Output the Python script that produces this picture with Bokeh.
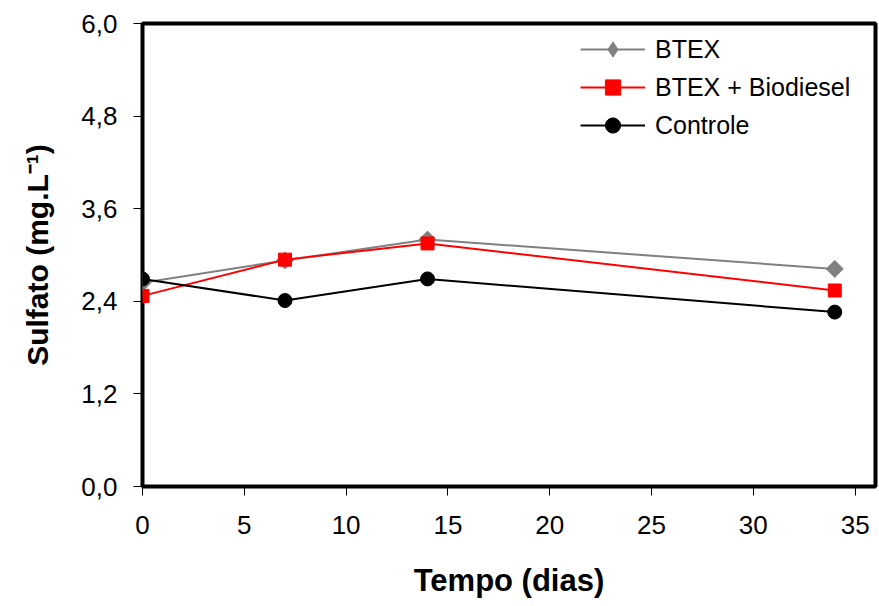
import math
from bokeh.plotting import figure
from bokeh.models import ColumnDataSource, FixedTicker, Legend, LegendItem, Range1d
from bokeh.embed import file_html
from bokeh.resources import INLINE

# ---- data ----
days = [0, 7, 14, 34]
btex = [2.64, 2.93, 3.20, 2.82]
btex_bio = [2.47, 2.94, 3.15, 2.54]
controle = [2.69, 2.41, 2.69, 2.26]

series_names = ["BTEX", "BTEX + Biodiesel", "Controle"]
y_ticks = [0.0, 1.2, 2.4, 3.6, 4.8, 6.0]
y_tick_labels = ["0,0", "1,2", "2,4", "3,6", "4,8", "6,0"]
x_ticks = [0, 5, 10, 15, 20, 25, 30, 35]

FONT = "Liberation Sans"

p = figure(width=879, height=606, output_backend="svg", toolbar_location=None,
           x_range=Range1d(0, 36), y_range=Range1d(0, 6),
           min_border_left=142, min_border_right=4, min_border_top=23,
           min_border_bottom=120)
p.background_fill_color = "white"
p.border_fill_color = "white"
p.outline_line_color = "black"
p.outline_line_width = 4
p.xgrid.visible = False
p.ygrid.visible = False

src = ColumnDataSource(dict(x=days, btex=btex, bio=btex_bio, ctrl=controle))

l1 = p.line("x", "btex", source=src, line_color="#808080", line_width=2)
m1 = p.scatter("x", "btex", source=src, marker="square", size=12, angle=math.pi / 4,
               fill_color="#808080", line_color="#808080")
# legend-only diamond glyph (zero size in the plot; legend draws its own size)
m1_leg = p.scatter("x", "btex", source=src, marker="diamond", size=0,
                   fill_color="#808080", line_color="#808080")
l2 = p.line("x", "bio", source=src, line_color="#ff0000", line_width=2)
m2 = p.scatter("x", "bio", source=src, marker="square", size=13,
               fill_color="#ff0000", line_color="#ff0000")
l3 = p.line("x", "ctrl", source=src, line_color="black", line_width=2)
m3 = p.scatter("x", "ctrl", source=src, marker="circle", size=14,
               fill_color="black", line_color="black")

# axes
p.xaxis.ticker = FixedTicker(ticks=x_ticks)
p.yaxis.ticker = FixedTicker(ticks=y_ticks)
p.yaxis.major_label_overrides = {t: s for t, s in zip(y_ticks, y_tick_labels)}
for ax in (p.xaxis[0], p.yaxis[0]):
    ax.axis_line_color = None
    ax.major_tick_out = 9
    ax.major_tick_in = 0
    ax.minor_tick_line_color = None
    ax.major_tick_line_color = "black"
    ax.major_tick_line_width = 1
    ax.major_label_text_font = FONT
    ax.major_label_text_font_size = "26px"
    ax.major_label_text_color = "black"
    ax.axis_label_text_font = FONT
    ax.axis_label_text_font_style = "bold"
    ax.axis_label_text_color = "black"

p.xaxis.axis_label = "Tempo (dias)"
p.yaxis.axis_label = "Sulfato (mg.L\u207b\u00b9)"
p.xaxis.axis_label_text_font_size = "31px"
p.yaxis.axis_label_text_font_size = "30px"
p.xaxis.major_label_standoff = 20
p.yaxis.major_label_standoff = 16
p.xaxis.axis_label_standoff = 26
p.yaxis.axis_label_standoff = 24

legend = Legend(items=[
    LegendItem(label=series_names[0], renderers=[l1, m1_leg]),
    LegendItem(label=series_names[1], renderers=[l2, m2]),
    LegendItem(label=series_names[2], renderers=[l3, m3]),
], location=(438, 342))
legend.border_line_color = None
legend.background_fill_alpha = 0
legend.padding = 0
legend.margin = 0
legend.spacing = 0
legend.glyph_width = 65
legend.glyph_height = 38
legend.label_height = 38
legend.label_standoff = 10
legend.label_text_font = FONT
legend.label_text_font_size = "25px"
legend.label_text_color = "black"
p.add_layout(legend)

open("out.html", "w").write(file_html(p, INLINE))
